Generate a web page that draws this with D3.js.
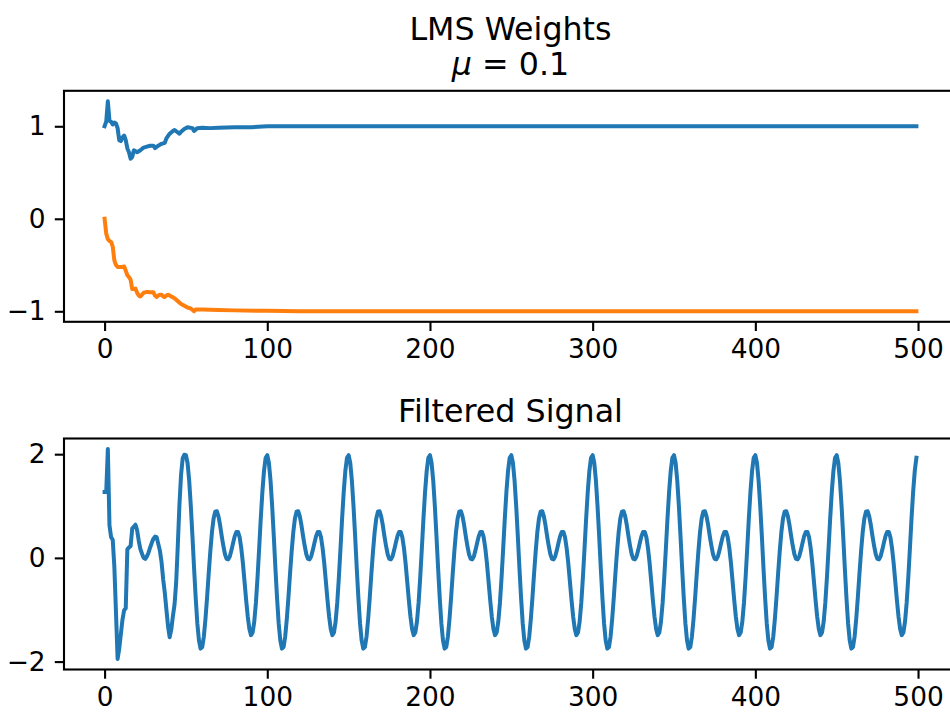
<!DOCTYPE html>
<html>
<head>
<meta charset="utf-8">
<script src="https://cdn.jsdelivr.net/npm/d3@7"></script>
<style>
  body { margin: 0; background: #fff; }
  svg { display: block; font-family: "DejaVu Sans", sans-serif; }
  .tick line { stroke: #000; stroke-width: 2.1px; }
  .tick text { font-family: "DejaVu Sans", sans-serif; font-size: 26.4px; fill: #000; }
  .title { font-size: 31.7px; fill: #000; }
</style>
</head>
<body>
<svg id="container" width="950" height="716"></svg>
<script>
// LMS weights as [sample, value]
const weight0 = [
    [0, 1.0], [1, 1.05], [2, 1.27], [3, 1.06], [4, 1.05], [5, 1.02], [6, 1.04], [7, 1.03],
    [8, 0.98], [9, 0.85], [10, 0.84], [11, 0.88], [12, 0.9], [13, 0.85], [14, 0.76],
    [15, 0.72], [16, 0.65], [17, 0.67], [18, 0.74], [19, 0.73], [20, 0.72], [22, 0.74],
    [24, 0.77], [26, 0.78], [28, 0.79], [30, 0.79], [31, 0.765], [33, 0.79], [35, 0.81],
    [37, 0.82], [38, 0.87], [40, 0.92], [42, 0.95], [43, 0.96], [46, 0.92], [47, 0.94],
    [49, 0.97], [51, 0.99], [54, 0.98], [55, 0.95], [57, 0.98], [60, 0.985], [65, 0.98],
    [70, 0.985], [80, 0.99], [90, 0.99], [100, 1.0], [120, 1.0], [499, 1.0]
];
const weight1 = [
    [0, 0.0], [1, -0.16], [2, -0.22], [3, -0.24], [4, -0.25], [5, -0.3], [6, -0.45],
    [7, -0.5], [8, -0.52], [9, -0.52], [10, -0.52], [11, -0.52], [12, -0.515], [13, -0.56],
    [14, -0.61], [15, -0.63], [16, -0.66], [17, -0.76], [18, -0.76], [19, -0.755],
    [20, -0.8], [21, -0.83], [22, -0.84], [23, -0.82], [24, -0.8], [26, -0.79], [28, -0.795],
    [30, -0.795], [31, -0.83], [32, -0.845], [33, -0.83], [34, -0.82], [35, -0.82],
    [36, -0.84], [37, -0.845], [38, -0.83], [39, -0.82], [40, -0.83], [41, -0.84],
    [43, -0.86], [45, -0.89], [47, -0.92], [49, -0.94], [51, -0.96], [53, -0.97],
    [55, -1.0], [56, -0.98], [60, -0.98], [70, -0.985], [80, -0.99], [100, -0.995],
    [120, -1.0], [499, -1.0]
];

// filtered signal, one value per sample
const signalStart = [
    1.27, 1.27, 2.10, 0.63, 0.40, 0.35, -0.17, -1.05, -1.95, -1.75,
    -1.47, -1.19, -1.01, -0.97, 0.17, 0.20, 0.23, 0.57, 0.60, 0.64,
    0.53, 0.33, 0.17, 0.08, 0.00, -0.02, 0.03, 0.10, 0.20, 0.29,
    0.37, 0.41, 0.40, 0.27, 0.14, -0.08, -0.41, -0.67, -1.00, -1.32,
    -1.53, -1.38, -1.12, -0.90, -0.47, 0.24, 1.02, 1.60, 1.92, 1.99
];
const signalSteady = [
    // 50 - 99
    1.98, 1.83, 1.49, 1.00, 0.42, -0.20, -0.77, -1.26, -1.59, -1.75, -1.72, -1.52, -1.18, -0.76, -0.30, 0.13, 0.50, 0.76, 0.89, 0.90, 0.80, 0.63, 0.42, 0.23, 0.07, -0.02, -0.03, 0.03, 0.15, 0.29, 0.42, 0.50, 0.50, 0.40, 0.19, -0.10, -0.45, -0.81, -1.13, -1.37, -1.49, -1.44, -1.23, -0.87, -0.38, 0.18, 0.76, 1.28, 1.68, 1.93,
    // 100 - 149
    1.98, 1.83, 1.49, 1.00, 0.42, -0.20, -0.77, -1.26, -1.59, -1.75, -1.72, -1.52, -1.18, -0.76, -0.30, 0.13, 0.50, 0.76, 0.89, 0.90, 0.80, 0.63, 0.42, 0.23, 0.07, -0.02, -0.03, 0.03, 0.15, 0.29, 0.42, 0.50, 0.50, 0.40, 0.19, -0.10, -0.45, -0.81, -1.13, -1.37, -1.49, -1.44, -1.23, -0.87, -0.38, 0.18, 0.76, 1.28, 1.68, 1.93,
    // 150 - 199
    1.98, 1.83, 1.49, 1.00, 0.42, -0.20, -0.77, -1.26, -1.59, -1.75, -1.72, -1.52, -1.18, -0.76, -0.30, 0.13, 0.50, 0.76, 0.89, 0.90, 0.80, 0.63, 0.42, 0.23, 0.07, -0.02, -0.03, 0.03, 0.15, 0.29, 0.42, 0.50, 0.50, 0.40, 0.19, -0.10, -0.45, -0.81, -1.13, -1.37, -1.49, -1.44, -1.23, -0.87, -0.38, 0.18, 0.76, 1.28, 1.68, 1.93,
    // 200 - 249
    1.98, 1.83, 1.49, 1.00, 0.42, -0.20, -0.77, -1.26, -1.59, -1.75, -1.72, -1.52, -1.18, -0.76, -0.30, 0.13, 0.50, 0.76, 0.89, 0.90, 0.80, 0.63, 0.42, 0.23, 0.07, -0.02, -0.03, 0.03, 0.15, 0.29, 0.42, 0.50, 0.50, 0.40, 0.19, -0.10, -0.45, -0.81, -1.13, -1.37, -1.49, -1.44, -1.23, -0.87, -0.38, 0.18, 0.76, 1.28, 1.68, 1.93,
    // 250 - 299
    1.98, 1.83, 1.49, 1.00, 0.42, -0.20, -0.77, -1.26, -1.59, -1.75, -1.72, -1.52, -1.18, -0.76, -0.30, 0.13, 0.50, 0.76, 0.89, 0.90, 0.80, 0.63, 0.42, 0.23, 0.07, -0.02, -0.03, 0.03, 0.15, 0.29, 0.42, 0.50, 0.50, 0.40, 0.19, -0.10, -0.45, -0.81, -1.13, -1.37, -1.49, -1.44, -1.23, -0.87, -0.38, 0.18, 0.76, 1.28, 1.68, 1.93,
    // 300 - 349
    1.98, 1.83, 1.49, 1.00, 0.42, -0.20, -0.77, -1.26, -1.59, -1.75, -1.72, -1.52, -1.18, -0.76, -0.30, 0.13, 0.50, 0.76, 0.89, 0.90, 0.80, 0.63, 0.42, 0.23, 0.07, -0.02, -0.03, 0.03, 0.15, 0.29, 0.42, 0.50, 0.50, 0.40, 0.19, -0.10, -0.45, -0.81, -1.13, -1.37, -1.49, -1.44, -1.23, -0.87, -0.38, 0.18, 0.76, 1.28, 1.68, 1.93,
    // 350 - 399
    1.98, 1.83, 1.49, 1.00, 0.42, -0.20, -0.77, -1.26, -1.59, -1.75, -1.72, -1.52, -1.18, -0.76, -0.30, 0.13, 0.50, 0.76, 0.89, 0.90, 0.80, 0.63, 0.42, 0.23, 0.07, -0.02, -0.03, 0.03, 0.15, 0.29, 0.42, 0.50, 0.50, 0.40, 0.19, -0.10, -0.45, -0.81, -1.13, -1.37, -1.49, -1.44, -1.23, -0.87, -0.38, 0.18, 0.76, 1.28, 1.68, 1.93,
    // 400 - 449
    1.98, 1.83, 1.49, 1.00, 0.42, -0.20, -0.77, -1.26, -1.59, -1.75, -1.72, -1.52, -1.18, -0.76, -0.30, 0.13, 0.50, 0.76, 0.89, 0.90, 0.80, 0.63, 0.42, 0.23, 0.07, -0.02, -0.03, 0.03, 0.15, 0.29, 0.42, 0.50, 0.50, 0.40, 0.19, -0.10, -0.45, -0.81, -1.13, -1.37, -1.49, -1.44, -1.23, -0.87, -0.38, 0.18, 0.76, 1.28, 1.68, 1.93,
    // 450 - 499
    1.98, 1.83, 1.49, 1.00, 0.42, -0.20, -0.77, -1.26, -1.59, -1.75, -1.72, -1.52, -1.18, -0.76, -0.30, 0.13, 0.50, 0.76, 0.89, 0.90, 0.80, 0.63, 0.42, 0.23, 0.07, -0.02, -0.03, 0.03, 0.15, 0.29, 0.42, 0.50, 0.50, 0.40, 0.19, -0.10, -0.45, -0.81, -1.13, -1.37, -1.49, -1.44, -1.23, -0.87, -0.38, 0.18, 0.76, 1.28, 1.68, 1.93
];

const xTicks = [0, 100, 200, 300, 400, 500];
const yTicksTop = [-1, 0, 1];
const yTicksBottom = [-2, 0, 2];

const blue = "#1f77b4", orange = "#ff7f0e";

function padded(lo, hi) {
    let m = (hi - lo) * 0.05;
    return [lo - m, hi + m];
}

function drawPanel(svg, box, series, yTicks) {
    let x = d3.scaleLinear().domain(padded(0, 499)).range([box.left, box.right]);
    let all = series.flatMap(function(s) { return s.data.map(function(d) { return d[1]; }); });
    let y = d3.scaleLinear().domain(padded(d3.min(all), d3.max(all))).range([box.bottom, box.top]);

    let g = svg.append("g");

    let line = d3.line()
        .x(function(d) { return x(d[0]); })
        .y(function(d) { return y(d[1]); });

    series.forEach(function(s) {
        g.append("path")
            .datum(s.data)
            .attr("fill", "none")
            .attr("stroke", s.color)
            .attr("stroke-width", 4)
            .attr("stroke-linejoin", "round")
            .attr("stroke-linecap", "square")
            .attr("d", line);
    });

    let fmt = function(d) { return d < 0 ? "\u2212" + Math.abs(d) : String(d); };
    let plain = function(a) {
        a.attr("font-family", null).attr("font-size", null);
        a.select(".domain").remove();
    };

    g.append("g")
        .attr("transform", "translate(0," + box.bottom + ")")
        .call(d3.axisBottom(x).tickValues(xTicks).tickSize(9.2).tickPadding(8.5).tickFormat(fmt))
        .call(plain);

    g.append("g")
        .attr("transform", "translate(" + box.left + ",0)")
        .call(d3.axisLeft(y).tickValues(yTicks).tickSize(9.2).tickPadding(9.2).tickFormat(fmt))
        .call(plain);

    g.append("rect")
        .attr("x", box.left)
        .attr("y", box.top)
        .attr("width", box.right - box.left)
        .attr("height", box.bottom - box.top)
        .attr("fill", "none")
        .attr("stroke", "#000")
        .attr("stroke-width", 2.1);
}

function dochart() {
    let svg = d3.select("#container");
    let left = 64, right = 957;

    drawPanel(svg, {left: left, right: right, top: 90.8, bottom: 321.8},
        [{data: weight0, color: blue}, {data: weight1, color: orange}], yTicksTop);

    let signal = signalStart.concat(signalSteady).map(function(v, i) { return [i, v]; });
    drawPanel(svg, {left: left, right: right, top: 438.5, bottom: 669.5},
        [{data: signal, color: blue}], yTicksBottom);

    let cx = (left + right) / 2;
    svg.append("text")
        .attr("class", "title")
        .attr("x", cx).attr("y", 40)
        .attr("text-anchor", "middle")
        .text("LMS Weights");

    let t2 = svg.append("text")
        .attr("class", "title")
        .attr("x", cx).attr("y", 75)
        .attr("text-anchor", "middle");
    t2.append("tspan").attr("font-style", "italic").text("\u03bc");
    t2.append("tspan").text(" = 0.1");

    svg.append("text")
        .attr("class", "title")
        .attr("x", cx).attr("y", 422)
        .attr("text-anchor", "middle")
        .text("Filtered Signal");
}

document.addEventListener("DOMContentLoaded", dochart);
</script>
</body>
</html>
